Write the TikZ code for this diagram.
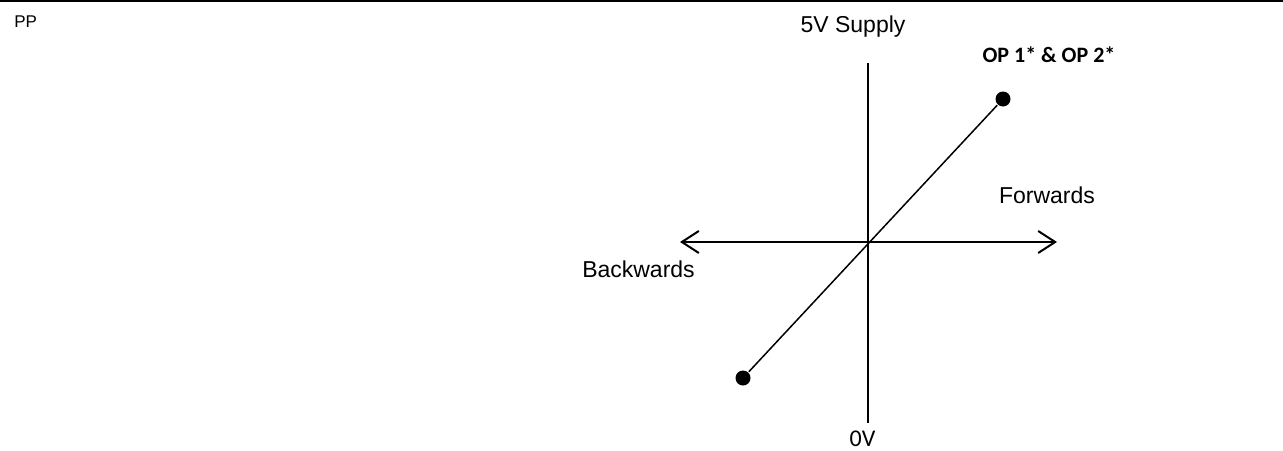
\documentclass[tikz,border=0pt]{standalone}
\usepackage{fontspec}
\setmainfont{Liberation Sans}
\newfontfamily\calibri{Carlito}
\usetikzlibrary{arrows.meta}

\begin{document}
\begin{tikzpicture}[x=1pt,y=-1pt,line width=2pt,
	>={Straight Barb[length=17pt,width=22pt]},
	lbl/.style={anchor=base,font=\fontsize{23}{27}\selectfont},
	dot/.style={circle,fill,inner sep=0pt,minimum size=15pt}]
		\useasboundingbox (0,0) rectangle (1283,450);
		\draw[line width=1.5pt] (0,1) -- (1283,1);
		\node[lbl,anchor=base west,font=\fontsize{17}{20}\selectfont] (pp) at (10,27) {PP};
		
		\coordinate (vtop) at (868,63);
		\coordinate (vbot) at (868,423);
		\coordinate (hleft) at (680,242);
		\coordinate (hright) at (1057,242);
		\draw (vtop) -- (vbot);
		\draw[<->] (hleft) -- (hright);
		
		\node[dot] (low) at (743,378) {};
		\node[dot] (high) at (1003,99) {};
		\draw[line width=1.5pt] (low) -- (high);
		
		\node[lbl] (supply) at (853,32) {5V Supply};
		\node[lbl,font=\calibri\bfseries\fontsize{22}{26}\selectfont] (op) at (1049,62) {OP 1* \& OP 2*};
		\node[lbl] (fwd) at (1047,203) {Forwards};
		\node[lbl] (bwd) at (638.5,277) {Backwards};
		\node[lbl,font=\calibri\fontsize{24}{29}\selectfont] (zero) at (862.5,446) {0V};
		\end{tikzpicture}
\end{document}
